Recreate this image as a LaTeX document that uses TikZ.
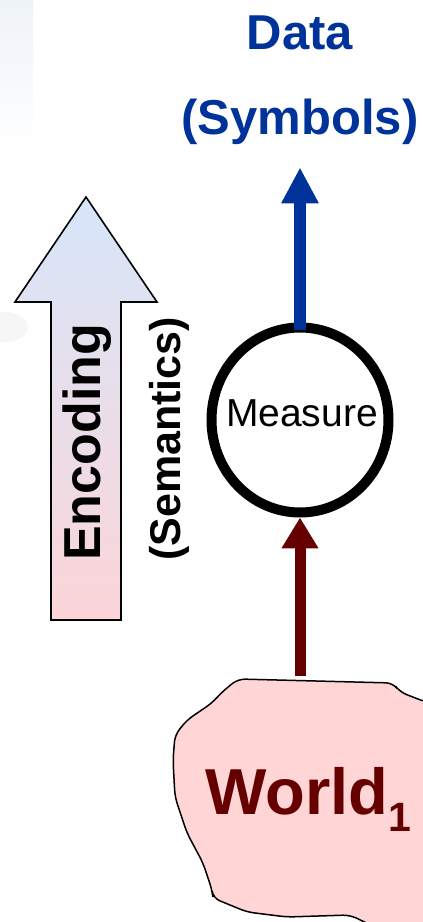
\documentclass[tikz,border=0pt]{standalone}
\usepackage{fontspec}
\setmainfont{Liberation Sans}
\usetikzlibrary{arrows.meta,shapes.geometric}
\definecolor{DataBlue}{HTML}{003399}
\definecolor{WorldRed}{HTML}{660000}
\definecolor{WorldPink}{HTML}{FFD5D5}
\definecolor{EncodeBlue}{HTML}{D6E6FA}
\definecolor{EncodePink}{HTML}{FCD5D8}
\definecolor{BackdropBlue}{HTML}{EEF3F9}
\tikzset{word/.style={inner sep=0pt,font=\bfseries},
  ring/.style={draw,ellipse,line width=10pt,inner sep=0pt,minimum width=177pt,minimum height=185pt}}

\begin{document}
\begin{tikzpicture}[x=1pt,y=1pt,
  datalbl/.style={word,text=DataBlue,font=\fontsize{49}{49}\selectfont\bfseries,anchor=base},
  sidelbl/.style={word,rotate=90,anchor=base west},
  dataarrow/.style={-{Triangle[length=36pt,width=35pt]},line width=12pt,DataBlue},
  worldarrow/.style={-{Triangle[length=31pt,width=35pt]},line width=11pt,WorldRed},
  encodearrow/.style={draw=black,line width=1.6pt,line join=miter,top color=EncodeBlue,bottom color=EncodePink}]
\useasboundingbox (0,0) rectangle (423,922);
\clip (0,0) rectangle (423,922);
% faint backdrop at the left edge
\fill[top color=BackdropBlue,middle color=BackdropBlue,bottom color=white] (0,770) rectangle (33,922);
\fill[gray!7] (6,595) ellipse (22 and 15);
% Data at the top
\node[datalbl] (data) at (300,872) {Data};
\node[datalbl] (symbols) at (300,787) {(Symbols)};
% Encoding block arrow
\draw[encodearrow] (15,620) -- (86,725) -- (157,620) -- (121,620) -- (121,302) -- (51,302) -- (51,620) -- cycle;
\node[sidelbl,font=\fontsize{52}{52}\selectfont\bfseries] (encoding) at (100,361) {Encoding};
\node[sidelbl,font=\fontsize{43}{43}\selectfont\bfseries] (semantics) at (180,361) {(Semantics)};
% Measure
\node[ring] (measure) at (300,502) {};
\node[inner sep=0pt,anchor=base,font=\fontsize{39}{39}\selectfont] (measurelbl) at (302,495) {Measure};
% World blob
\draw[fill=WorldPink,line width=1.5pt,rounded corners=7pt]
  (238,243) -- (393,239) -- (400,230) -- (423,221) -- (445,215) -- (445,-10) -- (385,-10) -- (350,7)
  -- (287,5) -- (247,10) -- (213,24) -- (212,32) -- (203,59) -- (187,89) -- (175,125)
  -- (173,162) -- (175,187) -- (187,202) -- (212,219) -- (222,230) -- cycle;
\node[word,anchor=base west,text=WorldRed,font=\fontsize{65}{65}\selectfont\bfseries] (world) at (205,107)
  {World\raisebox{-17pt}{\fontsize{41}{41}\selectfont 1}};
\coordinate (worldtop) at (300,246);
% arrows
\draw[worldarrow] (worldtop) -- (measure.south);
\draw[dataarrow] ([yshift=-8pt]measure.north) -- ([yshift=-22pt]symbols.south);
\end{tikzpicture}
\end{document}
